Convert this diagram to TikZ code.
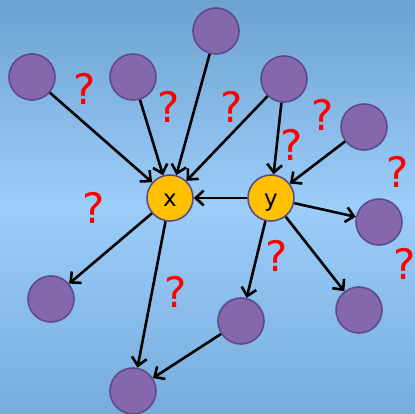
\documentclass[tikz,border=0pt]{standalone}
\usepackage{fontspec}
\setmainfont{DejaVu Sans}
\usetikzlibrary{arrows.meta}
\definecolor{fondhaut}{RGB}{108,162,208}
\definecolor{fondmilieu}{RGB}{156,205,249}
\definecolor{fondbas}{RGB}{118,172,220}
\definecolor{violet}{RGB}{132,104,171}
\definecolor{violetbord}{RGB}{94,74,138}
\definecolor{jaune}{RGB}{255,192,0}
\tikzstyle{noeud}=[
  circle,
  draw=violetbord,
  line width=1.6pt,
  fill=violet,
  minimum size=46pt,
  inner sep=0pt
]
\tikzstyle{cible}=[
  noeud,
  fill=jaune,
  text height=18pt,
  text depth=0pt,
  font=\fontsize{23}{23}\selectfont
]
\tikzstyle{doute}=[
  text=red,
  inner sep=0pt,
  font=\fontsize{42}{42}\selectfont
]
\tikzstyle{fleche}=[-{Straight Barb[length=8pt,width=15pt]},line width=2.6pt,draw=black]

\begin{document}
\begin{tikzpicture}[x=1pt,y=-1pt]
    \shade[top color=fondhaut,bottom color=fondbas,middle color=fondmilieu] (0,0) rectangle (415,414);
    \useasboundingbox (0,0) rectangle (415,414);
    % les deux variables
    \node[cible] (x) at (170,198) {x};
    \node[cible] (y) at (271,198) {y};
    % les autres
    \node[noeud] (a) at (32,77) {};
    \node[noeud] (b) at (133,77) {};
    \node[noeud] (c) at (216,31) {};
    \node[noeud] (d) at (284,79) {};
    \node[noeud] (e) at (364,127) {};
    \node[noeud] (f) at (379,222) {};
    \node[noeud] (g) at (51,299) {};
    \node[noeud] (h) at (241,321) {};
    \node[noeud] (i) at (359,310) {};
    \node[noeud] (j) at (133,391) {};
    \draw[fleche] (a) -- (x);
    \draw[fleche] (b) -- (x);
    \draw[fleche] (c) -- (x);
    \draw[fleche] (d) -- (x);
    \draw[fleche] (d) -- (y);
    \draw[fleche] (e) -- (y);
    \draw[fleche] (y) -- (x);
    \draw[fleche] (y) -- (f);
    \draw[fleche] (y) -- (h);
    \draw[fleche] (y) -- (i);
    \draw[fleche] (x) -- (g);
    \draw[fleche] (x) -- (j);
    \draw[fleche] (h) -- (j);
    % points d'interrogation
    \node[doute] (q1) at (85,89) {?};
    \node[doute] (q2) at (169,107) {?};
    \node[doute] (q3) at (232,107) {?};
    \node[doute] (q4) at (323,115) {?};
    \node[doute] (q5) at (292,145) {?};
    \node[doute] (q6) at (398,172) {?};
    \node[doute] (q7) at (94,208) {?};
    \node[doute] (q8) at (277,256) {?};
    \node[doute] (q9) at (405,264) {?};
    \node[doute] (q10) at (176,292) {?};
\end{tikzpicture}
\end{document}
